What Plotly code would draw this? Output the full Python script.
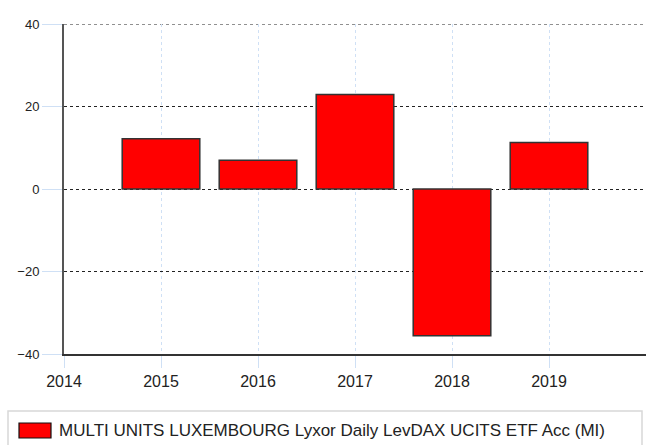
import plotly.graph_objects as go

years = [2015, 2016, 2017, 2018, 2019]
returns = [12.2, 7.0, 22.9, -35.6, 11.3]
series_name = "MULTI UNITS LUXEMBOURG Lyxor Daily LevDAX UCITS ETF Acc (MI)"
x_ticks = [2014, 2015, 2016, 2017, 2018, 2019]
y_ticks = [-40, -20, 0, 20, 40]

W, H = 647, 445
L, R, T, B = 64, 1, 24, 91
pw, ph = W - L - R, H - T - B

def px(x):
    return (x - L) / pw

def py(y):
    return (T + ph - y) / ph

fig = go.Figure()
fig.add_trace(go.Bar(
    x=years, y=returns, width=0.8, name=series_name,
    marker=dict(color="#FF0000", line=dict(color="#333333", width=1.5)),
    showlegend=False,
))

fig.update_layout(
    width=W, height=H,
    margin=dict(l=L, r=R, t=T, b=B, pad=0),
    plot_bgcolor="white", paper_bgcolor="white",
    font=dict(family="Liberation Sans, Arial, sans-serif", color="#222"),
    xaxis=dict(
        range=[2014, 2020], tickvals=x_ticks, ticktext=[str(v) for v in x_ticks],
        showgrid=True, gridcolor="#cfe0f5", griddash="dot", gridwidth=1,
        ticks="outside", ticklen=12, tickcolor="#cfe0f5", tickwidth=1,
        showline=True, linecolor="#333333", linewidth=2,
        tickfont=dict(size=16, color="#222"), zeroline=False,
    ),
    yaxis=dict(
        range=[-40, 40], tickvals=y_ticks,
        showgrid=True, gridcolor="#222222", griddash="dot", gridwidth=1,
        ticks="outside", ticklen=20, tickcolor="#cfe0f5", tickwidth=1,
        showline=True, linecolor="#555555", linewidth=2,
        tickfont=dict(size=13, color="#222"), zeroline=False,
    ),
    bargap=0.2,
)

# top gridline at the upper limit of the y range (plotly hides edge gridlines)
fig.add_shape(type="line", xref="paper", yref="y", x0=0, x1=1, y0=y_ticks[-1], y1=y_ticks[-1],
              line=dict(color="#222222", width=1, dash="dot"), layer="below")

# legend box
fig.add_shape(type="rect", xref="paper", yref="paper",
              x0=px(8), x1=px(642), y0=py(452), y1=py(411),
              line=dict(color="#d8d8d8", width=1.5), fillcolor="white", layer="above")
fig.add_shape(type="rect", xref="paper", yref="paper",
              x0=px(19), x1=px(51), y0=py(438), y1=py(423),
              line=dict(color="#111", width=1.2), fillcolor="#FF0000", layer="above")
fig.add_annotation(xref="paper", yref="paper", x=px(57), y=py(430.5),
                   text=series_name, showarrow=False, xanchor="left", yanchor="middle",
                   font=dict(size=17, color="#222", family="Liberation Sans, Arial, sans-serif"))

fig.write_html("out.html", config={"displayModeBar": False},
               post_script="document.body.style.margin='0';document.body.style.padding='0';document.body.style.overflow='hidden';")
